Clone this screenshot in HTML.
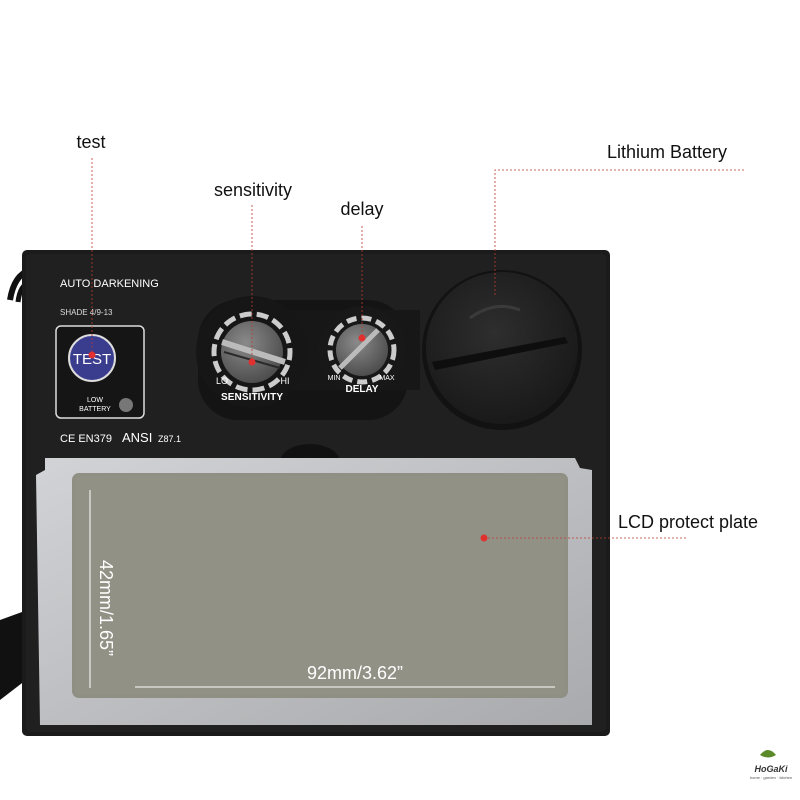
<!DOCTYPE html>
<html><head><meta charset="utf-8"><style>
html,body{margin:0;padding:0;background:#fff;}
svg{display:block;}
text{font-family:"Liberation Sans","DejaVu Sans",sans-serif;}
</style></head><body>
<svg width="800" height="800" viewBox="0 0 800 800" xmlns="http://www.w3.org/2000/svg">
<defs>
<linearGradient id="fr" x1="0" y1="0" x2="1" y2="1"><stop offset="0" stop-color="#d2d3d6"/><stop offset="1" stop-color="#a9aaad"/></linearGradient>
<radialGradient id="kn" cx="0.4" cy="0.35" r="0.7"><stop offset="0" stop-color="#8a8a8a"/><stop offset="1" stop-color="#4a4a4a"/></radialGradient>
<radialGradient id="bat" cx="0.45" cy="0.4" r="0.7"><stop offset="0" stop-color="#2e2e2e"/><stop offset="1" stop-color="#161616"/></radialGradient>
</defs>
<rect width="800" height="800" fill="#fff"/>
<path d="M10 300 Q14 275 30 270" stroke="#111" stroke-width="6" fill="none"/>
<path d="M18 302 Q20 285 30 282" stroke="#111" stroke-width="5" fill="none"/>
<path d="M0 620 L22 612 L26 680 L0 700 Z" fill="#111"/>
<rect x="22" y="250" width="588" height="486" rx="5" fill="#1b1b1b"/>
<rect x="26" y="254" width="580" height="478" rx="4" fill="#202020"/>
<rect x="198" y="300" width="210" height="120" rx="40" fill="#141414"/>
<rect x="290" y="310" width="130" height="80" fill="#171717"/>
<circle cx="252" cy="352" r="56" fill="#161616"/>
<circle cx="362" cy="350" r="44" fill="#181818"/>
<circle cx="252" cy="352" r="38" fill="none" stroke="#ccc" stroke-width="5" stroke-dasharray="12 5" transform="rotate(200 252 352)" stroke-dashoffset="0"/>
<circle cx="252" cy="352" r="31" fill="url(#kn)"/>
<path d="M222 342 L285 362" stroke="#bbb" stroke-width="6"/>
<path d="M224 352 L280 368" stroke="#2a2a2a" stroke-width="2"/>
<circle cx="362" cy="350" r="32" fill="none" stroke="#ccc" stroke-width="5" stroke-dasharray="10 5"/>
<circle cx="362" cy="350" r="26" fill="url(#kn)"/>
<path d="M340 368 L378 330" stroke="#bbb" stroke-width="5"/>
<text x="222" y="384" font-size="9" fill="#fff" text-anchor="middle">LO</text>
<text x="285" y="384" font-size="9" fill="#fff" text-anchor="middle">HI</text>
<text x="252" y="400" font-size="10" fill="#fff" text-anchor="middle" font-weight="bold" textLength="62">SENSITIVITY</text>
<text x="334" y="380" font-size="7" fill="#fff" text-anchor="middle">MIN</text>
<text x="387" y="380" font-size="7" fill="#fff" text-anchor="middle">MAX</text>
<text x="362" y="392" font-size="10" fill="#fff" text-anchor="middle" font-weight="bold">DELAY</text>
<circle cx="502" cy="350" r="80" fill="#121212"/>
<circle cx="502" cy="348" r="76" fill="url(#bat)"/>
<path d="M432 362 L565 337 L568 343 L435 370 Z" fill="#0e0e0e"/>
<path d="M470 318 Q495 300 520 310" stroke="#3a3a3a" stroke-width="3" fill="none"/>
<text x="60" y="287" font-size="11" fill="#fff">AUTO DARKENING</text>
<text x="60" y="315" font-size="8" fill="#ddd">SHADE 4/9-13</text>
<rect x="56" y="326" width="88" height="92" rx="5" fill="#151515" stroke="#ddd" stroke-width="1.5"/>
<circle cx="92" cy="358" r="23" fill="#3a3d8e" stroke="#ddd" stroke-width="2"/>
<text x="92" y="364" font-size="15" fill="#fff" text-anchor="middle">TEST</text>
<text x="95" y="402" font-size="7" fill="#fff" text-anchor="middle">LOW</text>
<text x="95" y="411" font-size="7" fill="#fff" text-anchor="middle">BATTERY</text>
<circle cx="126" cy="405" r="7" fill="#777"/>
<text x="60" y="442" font-size="11" fill="#fff">CE EN379</text>
<text x="122" y="442" font-size="13" fill="#fff">ANSI</text>
<text x="158" y="442" font-size="9" fill="#fff">Z87.1</text>
<ellipse cx="310" cy="462" rx="30" ry="18" fill="#111"/>
<path d="M45 458 L575 458 L580 468 L592 470 L592 725 L40 725 L36 475 L45 470 Z" fill="url(#fr)"/>
<rect x="72" y="473" width="496" height="225" rx="7" fill="#8f8f84"/>
<rect x="75" y="476" width="490" height="219" rx="6" fill="#919186"/>
<line x1="90" y1="490" x2="90" y2="688" stroke="#fff" stroke-width="1"/>
<line x1="135" y1="687" x2="555" y2="687" stroke="#fff" stroke-width="1"/>
<text x="0" y="0" font-size="18" fill="#fff" transform="translate(100,560) rotate(90)">42mm/1.65”</text>
<text x="355" y="679" font-size="18" fill="#fff" text-anchor="middle">92mm/3.62”</text>
<g stroke="#c0392b" stroke-width="0.8" stroke-dasharray="2 2" fill="none">
<line x1="92" y1="158" x2="92" y2="355"/>
<line x1="252" y1="205" x2="252" y2="362"/>
<line x1="362" y1="226" x2="362" y2="338"/>
<polyline points="495,295 495,170 745,170"/>
<line x1="484" y1="538" x2="686" y2="538"/>
</g>
<g fill="#e03030">
<circle cx="92" cy="355" r="3.5"/><circle cx="252" cy="362" r="3.5"/><circle cx="362" cy="338" r="3.5"/><circle cx="484" cy="538" r="3.5"/>
</g>
<g font-size="18" fill="#111">
<text x="91" y="148" text-anchor="middle">test</text>
<text x="253" y="196" text-anchor="middle">sensitivity</text>
<text x="362" y="215" text-anchor="middle">delay</text>
<text x="667" y="158" text-anchor="middle">Lithium Battery</text>
<text x="688" y="528" text-anchor="middle">LCD protect plate</text>
</g>
<path d="M760 755 Q768 745 776 755 Q768 760 760 755Z" fill="#5a8a2a"/>
<text x="771" y="772" font-size="9" fill="#333" text-anchor="middle" font-weight="bold" font-style="italic">HoGaKi</text>
<text x="771" y="779" font-size="4" fill="#555" text-anchor="middle">home · garden · kitchen</text>
</svg>
</body></html>
